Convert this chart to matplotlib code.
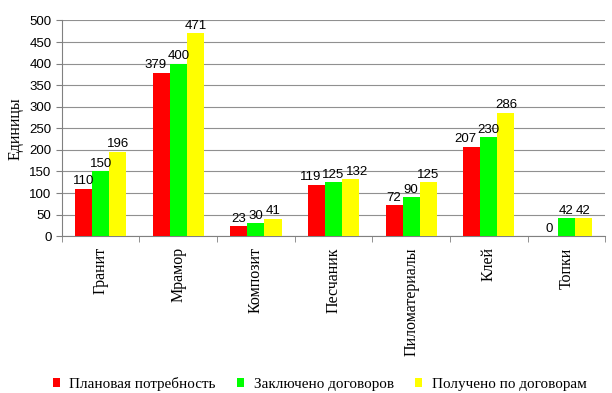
import numpy as np
import matplotlib
matplotlib.use("Agg")
import matplotlib.pyplot as plt

categories = ["Гранит", "Мрамор", "Композит", "Песчаник", "Пиломатериалы", "Клей", "Топки"]
planned = [110, 379, 23, 119, 72, 207, 0]
contracted = [150, 400, 30, 125, 90, 230, 42]
received = [196, 471, 41, 132, 125, 286, 42]
series_names = ["Плановая потребность", "Заключено договоров", "Получено по договорам"]
colors = ["#ff0000", "#00ff00", "#ffff00"]

SERIF = "Liberation Serif"
SANS = "Liberation Sans"
DPI = 100

fig = plt.figure(figsize=(6.12, 3.93), dpi=DPI)
ax = fig.add_axes([0.101, 0.399, 0.888, 0.549])

x = np.arange(len(categories))
w = 0.22
labels = [[] for _ in categories]
for i, (vals, name, col) in enumerate(zip([planned, contracted, received], series_names, colors)):
    xs = x + (i - 1) * w
    ax.bar(xs, vals, w, color=col, label=name, zorder=3, linewidth=0)
    for k, (xi, v) in enumerate(zip(xs, vals)):
        t = ax.annotate(str(v), (xi, v), xytext=(0, 1), textcoords="offset points",
                        ha="center", va="bottom", fontsize=9.5, family=SANS, zorder=4)
        labels[k].append(t)

ax.set_xlim(-0.5, len(categories) - 0.5)
ax.set_ylim(0, 500)
ax.set_yticks(range(0, 501, 50))
ax.yaxis.grid(True, color="#909090", linewidth=0.8, zorder=0)
ax.set_xticks(x)
ax.set_xticklabels(categories, rotation=90, family=SERIF, fontsize=11.5)
ax.set_xticks(np.arange(-0.5, len(categories), 1), minor=True)
ax.tick_params(axis="x", which="major", length=0, pad=8)
ax.tick_params(axis="x", which="minor", length=4, color="#808080")
ax.tick_params(axis="y", length=4, color="#808080", labelsize=9.5)
for lab in ax.get_yticklabels():
    lab.set_family(SANS)
for s in ["top", "right"]:
    ax.spines[s].set_visible(False)
ax.spines["left"].set_color("#808080")
ax.spines["bottom"].set_color("#808080")
ax.set_ylabel("Единицы", family=SERIF, fontsize=11.5, labelpad=4)

fig.legend(loc="lower center", bbox_to_anchor=(0.522, -0.03), ncol=3, frameon=False,
           prop={"family": SERIF, "size": 10.9}, handlelength=0.5, handleheight=0.5,
           handletextpad=0.6, columnspacing=1.4)

# push outer labels sideways when they collide with the middle one (like Excel does)
fig.canvas.draw()
r = fig.canvas.get_renderer()
for grp in labels:
    mid = grp[1].get_window_extent(r)
    for lab, side in ((grp[0], -1), (grp[2], 1)):
        bb = lab.get_window_extent(r)
        if bb.overlaps(mid):
            shift = (mid.x0 - bb.x1 - 1) if side < 0 else (mid.x1 - bb.x0 + 1)
            lab.xyann = (shift * 72 / DPI, 1)

fig.savefig("out.png", dpi=DPI)
